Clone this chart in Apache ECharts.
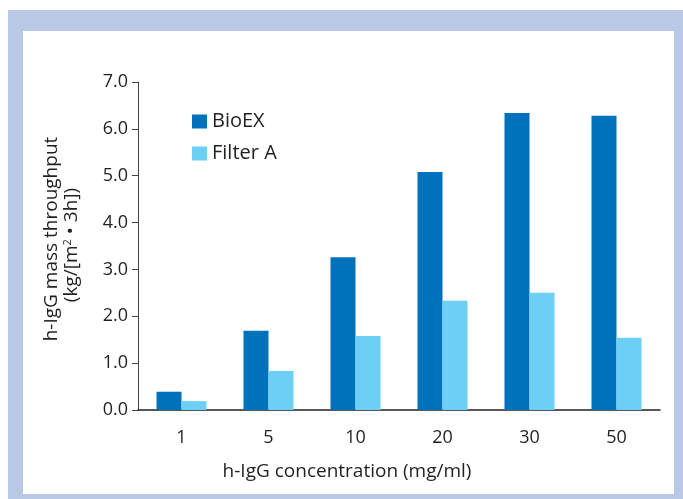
<!DOCTYPE html>
<html>
<head>
<meta charset="utf-8">
<script src="https://cdn.jsdelivr.net/npm/echarts@6/dist/echarts.min.js"></script>
<style>
html,body{margin:0;padding:0;background:#fff;}
#main{width:683px;height:499px;}
</style>
</head>
<body>
<div id="main"></div>
<script>
var categories = ['1', '5', '10', '20', '30', '50'];
var bioexValues = [0.39, 1.69, 3.26, 5.08, 6.34, 6.28];
var filterAValues = [0.19, 0.83, 1.58, 2.33, 2.50, 1.54];
var seriesNames = ['BioEX', 'Filter A'];
var yTicks = { min: 0, max: 7, interval: 1 };
var xTitle = 'h-IgG concentration (mg/ml)';
var yTitle1 = 'h-IgG mass throughput';
var yTitle2 = '(kg/[m{sup|2} • 3h])';

var FONT = '"Open Sans", sans-serif';
var TXT = '#231f20';
var chart = echarts.init(document.getElementById('main'), null, { renderer: 'canvas' });
chart.setOption({
  backgroundColor: '#ffffff',
  animation: false,
  graphic: [
    { type: 'rect', z: -10, silent: true, shape: { x: 8, y: 10, width: 675, height: 489 }, style: { fill: '#b9c9e5' } },
    { type: 'rect', z: -9, silent: true, shape: { x: 23, y: 31, width: 651, height: 463 }, style: { fill: '#ffffff' } },
    { type: 'text', x: 347, y: 472, style: { text: xTitle, fill: TXT, font: '19px ' + FONT, textAlign: 'center', textVerticalAlign: 'middle' } },
    { type: 'text', x: 52, y: 239, rotation: Math.PI / 2, style: { text: yTitle1, fill: TXT, font: '19px ' + FONT, textAlign: 'center', textVerticalAlign: 'middle' } },
    { type: 'text', x: 72, y: 245, rotation: Math.PI / 2, style: { text: yTitle2, fill: TXT, font: '19px ' + FONT, textAlign: 'center', textVerticalAlign: 'middle',
        rich: { sup: { fontSize: 11, verticalAlign: 'top', padding: [0, 0, 8, 0], fill: TXT, fontFamily: FONT } } } }
  ],
  legend: {
    orient: 'vertical', left: 187, top: 106,
    itemWidth: 15, itemHeight: 14, itemGap: 11, icon: 'rect',
    textStyle: { color: TXT, fontSize: 20, fontFamily: FONT, lineHeight: 21, padding: [0, 0, 0, 0] },
    data: seriesNames
  },
  grid: { left: 138, right: 23, top: 82, bottom: 89, containLabel: false },
  xAxis: {
    type: 'category', data: categories,
    axisLine: { lineStyle: { color: '#231f20', width: 1.5 } },
    axisTick: { show: false },
    axisLabel: { color: TXT, fontSize: 18, fontFamily: FONT, margin: 19 }
  },
  yAxis: {
    type: 'value', min: yTicks.min, max: yTicks.max, interval: yTicks.interval,
    axisLine: { show: true, lineStyle: { color: '#444', width: 1 } },
    axisTick: { show: true, length: 6, lineStyle: { color: '#444' } },
    splitLine: { show: false },
    axisLabel: { color: TXT, fontSize: 18, fontFamily: FONT, margin: 10, formatter: function (v) { return v.toFixed(1); } }
  },
  series: [
    { name: seriesNames[0], type: 'bar', data: bioexValues, barWidth: 25, barGap: '0%', itemStyle: { color: '#0072bc' } },
    { name: seriesNames[1], type: 'bar', data: filterAValues, barWidth: 25, barGap: '0%', itemStyle: { color: '#6dcff6' } }
  ]
});
</script>
</body>
</html>
